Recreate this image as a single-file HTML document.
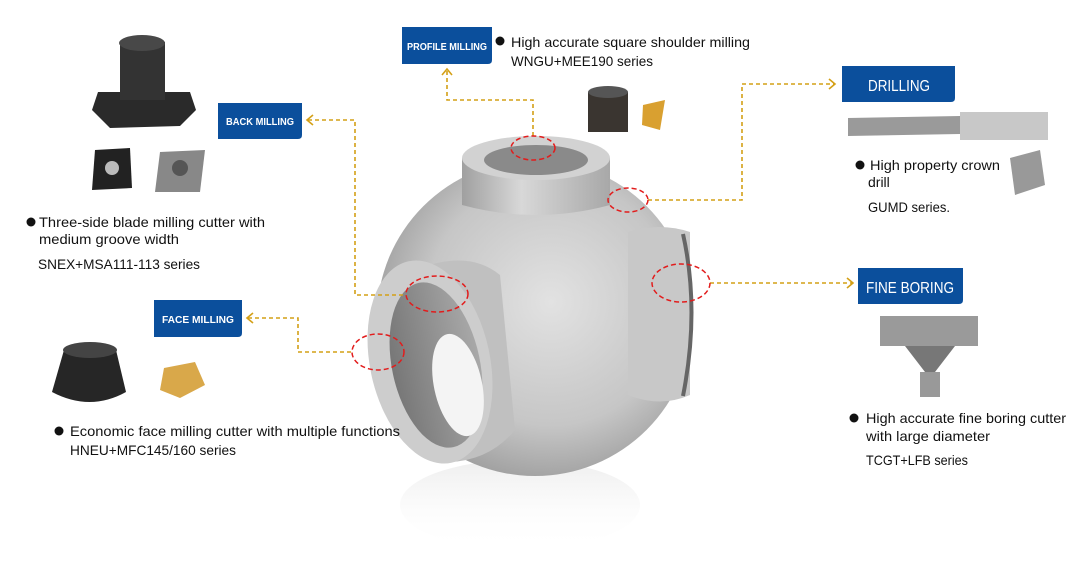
<!DOCTYPE html>
<html><head><meta charset="utf-8"><style>
html,body{margin:0;padding:0;background:#fff;}
svg{display:block;font-family:"Liberation Sans",sans-serif;}
</style></head><body>
<svg width="1080" height="580" viewBox="0 0 1080 580" xmlns="http://www.w3.org/2000/svg">
<defs>
<radialGradient id="sph" cx="0.55" cy="0.45" r="0.6">
<stop offset="0" stop-color="#e2e2e2"/><stop offset="0.65" stop-color="#c6c6c6"/><stop offset="1" stop-color="#9a9a9a"/>
</radialGradient>
<linearGradient id="cyl" x1="0" x2="1"><stop offset="0" stop-color="#a0a0a0"/><stop offset="0.4" stop-color="#d8d8d8"/><stop offset="1" stop-color="#a8a8a8"/></linearGradient>
<linearGradient id="refl" x1="0" y1="0" x2="0" y2="1"><stop offset="0" stop-color="#dcdcdc" stop-opacity="0.5"/><stop offset="1" stop-color="#fff" stop-opacity="0"/></linearGradient>
<linearGradient id="inner" x1="0" x2="1"><stop offset="0" stop-color="#777"/><stop offset="1" stop-color="#a8a8a8"/></linearGradient>
</defs>

<ellipse cx="520" cy="505" rx="120" ry="45" fill="url(#refl)"/>

<circle cx="535" cy="318" r="158" fill="url(#sph)"/>
<path d="M462 158 L462 205 Q536 225 610 205 L610 158 Z" fill="url(#cyl)"/>
<ellipse cx="536" cy="158" rx="74" ry="22" fill="#d2d2d2"/>
<ellipse cx="536" cy="160" rx="52" ry="15" fill="#8a8a8a"/>
<path d="M628 232 Q660 222 690 232 L690 395 Q660 408 628 395 Z" fill="#c8c8c8"/>
<path d="M683 234 Q700 310 683 396" stroke="#666" stroke-width="4" fill="none"/>
<!-- left flange: cylinder body then ring -->
<path d="M420 268 Q470 250 500 275 L515 430 Q490 460 450 462 Z" fill="#c0c0c0"/>
<ellipse cx="430" cy="362" rx="60" ry="103" transform="rotate(-12 430 362)" fill="#cdcdcd"/>
<ellipse cx="436" cy="365" rx="44" ry="84" transform="rotate(-12 436 365)" fill="url(#inner)"/>
<ellipse cx="458" cy="385" rx="24" ry="52" transform="rotate(-12 458 385)" fill="#f4f4f4"/>

<g stroke="#d4a017" stroke-width="1.6" stroke-dasharray="4,3" fill="none">
<path d="M533 136 V100 H447 V70"/>
<path d="M648 200 H742 V84 H834"/>
<path d="M308 120 H355 V295 H406"/>
<path d="M248 318 H298 V352 H352"/>
<path d="M710 283 H852"/>
</g>
<g stroke="#d4a017" stroke-width="1.6" fill="none">
<path d="M442 75 L447 69 L452 75"/>
<path d="M829 79 L835 84 L829 89"/>
<path d="M313 115 L307 120 L313 125"/>
<path d="M253 313 L247 318 L253 323"/>
<path d="M847 278 L853 283 L847 288"/>
</g>
<g stroke="#e21c1c" stroke-width="1.5" stroke-dasharray="5,3" fill="none">
<ellipse cx="533" cy="148" rx="22" ry="12"/>
<ellipse cx="628" cy="200" rx="20" ry="12"/>
<ellipse cx="437" cy="294" rx="31" ry="18"/>
<ellipse cx="378" cy="352" rx="26" ry="18"/>
<ellipse cx="681" cy="283" rx="29" ry="19"/>
</g>

<g fill="#0b4f9c">
<path d="M402 27 H492 V60 Q492 64 488 64 H402 Z"/>
<path d="M218 103 H302 V135 Q302 139 298 139 H218 Z"/>
<path d="M154 300 H242 V333 Q242 337 238 337 H154 Z"/>
<path d="M842 66 H955 V98 Q955 102 951 102 H842 Z"/>
<path d="M858 268 H963 V300 Q963 304 959 304 H858 Z"/>
</g>
<g fill="#fff" font-weight="bold" text-anchor="middle">
<text x="447" y="50" font-size="10" textLength="80" lengthAdjust="spacingAndGlyphs">PROFILE MILLING</text>
<text x="260" y="125" font-size="10" textLength="68" lengthAdjust="spacingAndGlyphs">BACK MILLING</text>
<text x="198" y="323" font-size="10" textLength="72" lengthAdjust="spacingAndGlyphs">FACE MILLING</text>
<text x="899" y="91" font-size="16" font-weight="normal" textLength="62" lengthAdjust="spacingAndGlyphs">DRILLING</text>
<text x="910" y="293" font-size="16" font-weight="normal" textLength="88" lengthAdjust="spacingAndGlyphs">FINE BORING</text>
</g>

<g fill="#111" font-size="14">
<circle cx="500" cy="41" r="4.5"/>
<text x="511" y="47" textLength="239" lengthAdjust="spacingAndGlyphs">High accurate square shoulder milling</text>
<text x="511" y="66" textLength="142" lengthAdjust="spacingAndGlyphs">WNGU+MEE190 series</text>
<circle cx="31" cy="222" r="4.5"/>
<text x="39" y="227" textLength="226" lengthAdjust="spacingAndGlyphs">Three-side blade milling cutter with</text>
<text x="39" y="244" textLength="140" lengthAdjust="spacingAndGlyphs">medium groove width</text>
<text x="38" y="269" textLength="162" lengthAdjust="spacingAndGlyphs">SNEX+MSA111-113 series</text>
<circle cx="59" cy="431" r="4.5"/>
<text x="70" y="436" textLength="330" lengthAdjust="spacingAndGlyphs">Economic face milling cutter with multiple functions</text>
<text x="70" y="455" textLength="166" lengthAdjust="spacingAndGlyphs">HNEU+MFC145/160 series</text>
<circle cx="860" cy="165" r="4.5"/>
<text x="870" y="170" textLength="130" lengthAdjust="spacingAndGlyphs">High property crown</text>
<text x="868" y="187">drill</text>
<text x="868" y="212" textLength="82" lengthAdjust="spacingAndGlyphs">GUMD series.</text>
<circle cx="854" cy="418" r="4.5"/>
<text x="866" y="423" textLength="200" lengthAdjust="spacingAndGlyphs">High accurate fine boring cutter</text>
<text x="866" y="441" textLength="124" lengthAdjust="spacingAndGlyphs">with large diameter</text>
<text x="866" y="465" textLength="102" lengthAdjust="spacingAndGlyphs">TCGT+LFB series</text>
</g>

<!-- back milling cutter -->
<path d="M98 92 L190 92 L196 110 L180 126 L110 128 L92 110 Z" fill="#2a2a2a"/>
<rect x="120" y="42" width="45" height="58" fill="#333"/>
<ellipse cx="142" cy="43" rx="23" ry="8" fill="#484848"/>
<path d="M95 150 L130 148 L132 188 L92 190 Z" fill="#222"/>
<circle cx="112" cy="168" r="7" fill="#bbb"/>
<path d="M160 152 L205 150 L200 192 L155 192 Z" fill="#888"/>
<circle cx="180" cy="168" r="8" fill="#555"/>
<!-- face milling -->
<path d="M64 350 L116 350 L126 392 Q90 412 52 392 Z" fill="#262626"/>
<ellipse cx="90" cy="350" rx="27" ry="8" fill="#444"/>
<path d="M164 368 L195 362 L205 385 L180 398 L160 390 Z" fill="#d9a84a"/>
<!-- profile milling -->
<rect x="588" y="92" width="40" height="40" fill="#3a3530"/>
<ellipse cx="608" cy="92" rx="20" ry="6" fill="#555"/>
<path d="M643 105 L665 100 L660 130 L642 125 Z" fill="#d9a030"/>
<!-- drill -->
<path d="M848 118 L960 116 L960 134 L848 136 Z" fill="#9a9a9a"/>
<path d="M960 112 L1048 112 L1048 140 L960 140 Z" fill="#c8c8c8"/>
<path d="M1010 158 L1040 150 L1045 185 L1015 195 Z" fill="#999"/>
<!-- boring -->
<rect x="880" y="316" width="98" height="30" fill="#9a9a9a"/>
<path d="M905 346 L955 346 L935 372 L925 372 Z" fill="#777"/>
<rect x="920" y="372" width="20" height="25" fill="#999"/>
</svg>
</body></html>
